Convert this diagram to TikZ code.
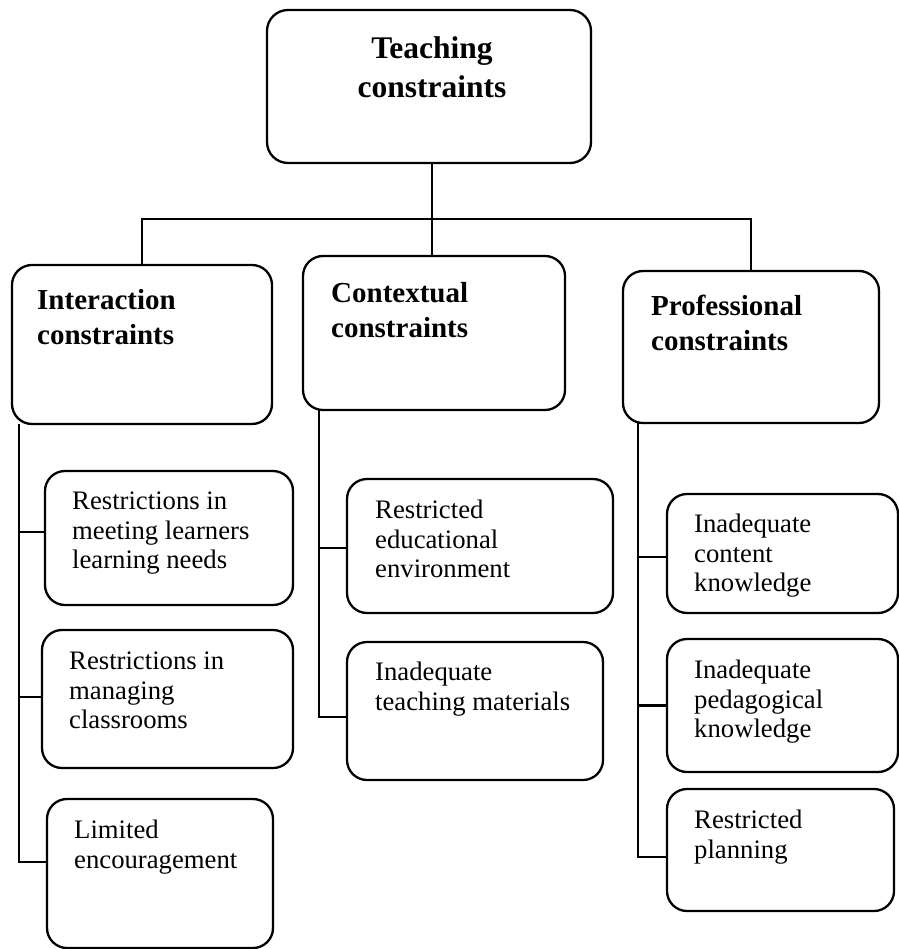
\documentclass[tikz,border=0pt]{standalone}
\usepackage{fontspec}
\setmainfont{Liberation Serif}
\usetikzlibrary{calc}

\tikzset{
  box/.style={draw, line width=2.3pt, rounded corners=20pt, inner sep=0pt},
  topbox/.style={box, rounded corners=21pt},
  link/.style={draw, line width=2.3pt},
  headtext/.style={inner sep=0pt, anchor=north, align=center,
    font=\fontsize{31.5}{39}\selectfont\bfseries},
  cattext/.style={inner sep=0pt, anchor=north west, align=left,
    font=\fontsize{29}{35}\selectfont\bfseries},
  itemtext/.style={inner sep=0pt, anchor=north west, align=left,
    font=\fontsize{26.7}{29.5}\selectfont},
}

\begin{document}
\begin{tikzpicture}[x=1pt, y=-1pt]
\useasboundingbox (0,0) rectangle (898,949);

% root
\node[topbox, minimum width=324pt, minimum height=153pt] (top) at (429,86.5) {};
\node[headtext] (tTop) at (432,36) {Teaching\\constraints};

% three categories
\node[box, minimum width=260pt, minimum height=159pt] (I) at (142,344.5) {};
\node[box, minimum width=262pt, minimum height=154pt] (C) at (434,333) {};
\node[box, minimum width=256pt, minimum height=152pt] (P) at (751,347) {};
\node[cattext] (tI) at (37,289) {Interaction\\constraints};
\node[cattext] (tC) at (331,282) {Contextual\\constraints};
\node[cattext] (tP) at (651,295) {Professional\\constraints};

% interaction items
\node[box, minimum width=248pt, minimum height=134pt] (I1) at (169,538) {};
\node[box, minimum width=251pt, minimum height=138pt] (I2) at (167.5,699) {};
\node[box, minimum width=226pt, minimum height=149pt] (I3) at (160,873.5) {};
\node[itemtext] (tI1) at (72,492) {Restrictions in\\meeting learners\\learning needs};
\node[itemtext] (tI2) at (69,652) {Restrictions in\\managing\\classrooms};
\node[itemtext] (tI3) at (74,820) {Limited\\encouragement};

% contextual items
\node[box, minimum width=266pt, minimum height=134pt] (C1) at (480,546) {};
\node[box, minimum width=256pt, minimum height=138pt] (C2) at (475,711) {};
\node[itemtext] (tC1) at (375,500) {Restricted\\educational\\environment};
\node[itemtext] (tC2) at (375,662) {Inadequate\\teaching materials};

% professional items
\node[box, minimum width=231pt, minimum height=119pt] (P1) at (782.5,553.5) {};
\node[box, minimum width=231pt, minimum height=133pt] (P2) at (782.5,705.5) {};
\node[box, minimum width=227pt, minimum height=122pt] (P3) at (780.5,850) {};
\node[itemtext] (tP1) at (694,514) {Inadequate\\content\\knowledge};
\node[itemtext] (tP2) at (694,660) {Inadequate\\pedagogical\\knowledge};
\node[itemtext] (tP3) at (694,810) {Restricted\\planning};

% top-level tree
\coordinate (bar) at (432,219);
\draw[link] (top.south -| bar) -- (bar);
\draw[link] (I.north) |- (bar) -| (P.north);
\draw[link] (bar) -- (bar |- C.north);

% spines under each category
\coordinate (iroot) at (19,424);
\coordinate (croot) at (319,410);
\coordinate (proot) at (638,423);

\path ([yshift=6pt]I1.west) coordinate (i1s)
      ([yshift=2pt]I2.west) coordinate (i2s)
      ([yshift=11.5pt]I3.west) coordinate (i3s)
      ([yshift=-2pt]C1.west) coordinate (c1s)
      ([yshift=-6pt]C2.west) coordinate (c2s)
      ([yshift=-3.5pt]P1.west) coordinate (p1s)
      (P2.west) coordinate (p2s)
      ([yshift=-7pt]P3.west) coordinate (p3s);

\draw[link] (iroot) |- (i3s);
\draw[link] (iroot |- i1s) -- (i1s);
\draw[link] (iroot |- i2s) -- (i2s);

\draw[link] (croot) |- (c2s);
\draw[link] (croot |- c1s) -- (c1s);

\draw[link] (proot) |- (p3s);
\draw[link] (proot |- p1s) -- (p1s);
\draw[link] (proot |- p2s) -- (p2s);
\end{tikzpicture}
\end{document}
